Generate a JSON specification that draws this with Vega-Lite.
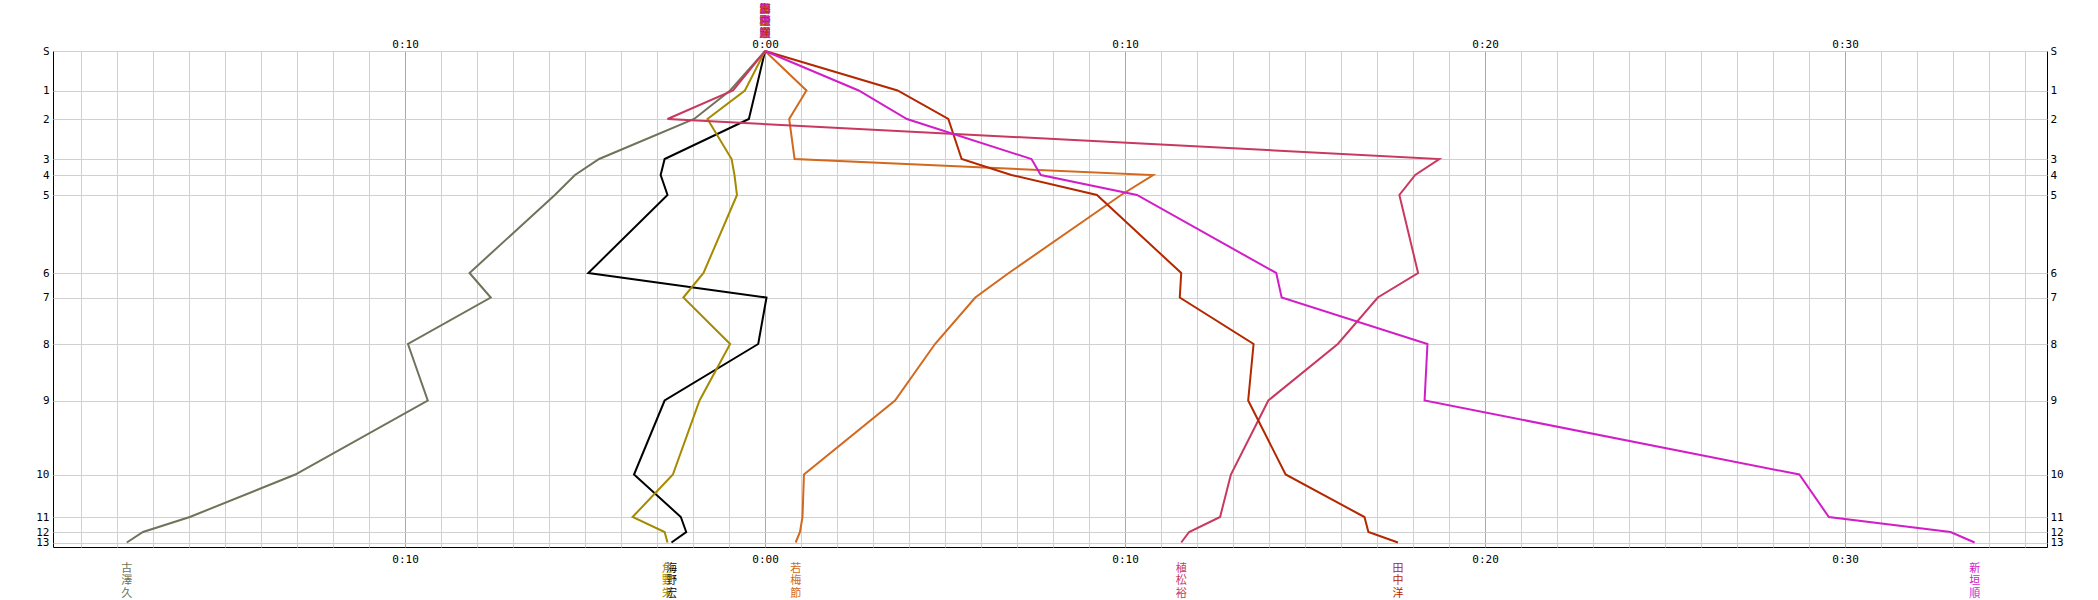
{
  "$schema": "https://vega.github.io/schema/vega-lite/v6.json",
  "width": 1994,
  "height": 496,
  "autosize": "none",
  "padding": {"left": 53, "top": 51, "right": 51, "bottom": 53},
  "background": "white",
  "config": {"view": {"stroke": "black", "strokeWidth": 1}},
  "data": {"values": [
    {"runner":"古澤久","ctrl":"S","d":0,"t":0},
    {"runner":"古澤久","ctrl":"1","d":39.5,"t":-0.97},
    {"runner":"古澤久","ctrl":"2","d":68,"t":-1.97},
    {"runner":"古澤久","ctrl":"3","d":108,"t":-4.61},
    {"runner":"古澤久","ctrl":"4","d":124,"t":-5.28},
    {"runner":"古澤久","ctrl":"5","d":144,"t":-5.84},
    {"runner":"古澤久","ctrl":"6","d":222,"t":-8.21},
    {"runner":"古澤久","ctrl":"7","d":246.5,"t":-7.62},
    {"runner":"古澤久","ctrl":"8","d":293,"t":-9.92},
    {"runner":"古澤久","ctrl":"9","d":349.5,"t":-9.37},
    {"runner":"古澤久","ctrl":"10","d":423.5,"t":-13.05},
    {"runner":"古澤久","ctrl":"11","d":466,"t":-15.98},
    {"runner":"古澤久","ctrl":"12","d":481,"t":-17.28},
    {"runner":"古澤久","ctrl":"13","d":491.5,"t":-17.73},
    {"runner":"海野宏","ctrl":"S","d":0,"t":0},
    {"runner":"海野宏","ctrl":"1","d":39.5,"t":-0.26},
    {"runner":"海野宏","ctrl":"2","d":68,"t":-0.45},
    {"runner":"海野宏","ctrl":"3","d":108,"t":-2.79},
    {"runner":"海野宏","ctrl":"4","d":124,"t":-2.9},
    {"runner":"海野宏","ctrl":"5","d":144,"t":-2.71},
    {"runner":"海野宏","ctrl":"6","d":222,"t":-4.91},
    {"runner":"海野宏","ctrl":"7","d":246.5,"t":0.04},
    {"runner":"海野宏","ctrl":"8","d":293,"t":-0.19},
    {"runner":"海野宏","ctrl":"9","d":349.5,"t":-2.79},
    {"runner":"海野宏","ctrl":"10","d":423.5,"t":-3.64},
    {"runner":"海野宏","ctrl":"11","d":466,"t":-2.34},
    {"runner":"海野宏","ctrl":"12","d":481,"t":-2.19},
    {"runner":"海野宏","ctrl":"13","d":491.5,"t":-2.6},
    {"runner":"角野栄","ctrl":"S","d":0,"t":0},
    {"runner":"角野栄","ctrl":"1","d":39.5,"t":-0.56},
    {"runner":"角野栄","ctrl":"2","d":68,"t":-1.6},
    {"runner":"角野栄","ctrl":"3","d":108,"t":-0.93},
    {"runner":"角野栄","ctrl":"4","d":124,"t":-0.85},
    {"runner":"角野栄","ctrl":"5","d":144,"t":-0.78},
    {"runner":"角野栄","ctrl":"6","d":222,"t":-1.71},
    {"runner":"角野栄","ctrl":"7","d":246.5,"t":-2.27},
    {"runner":"角野栄","ctrl":"8","d":293,"t":-0.97},
    {"runner":"角野栄","ctrl":"9","d":349.5,"t":-1.82},
    {"runner":"角野栄","ctrl":"10","d":423.5,"t":-2.56},
    {"runner":"角野栄","ctrl":"11","d":466,"t":-3.68},
    {"runner":"角野栄","ctrl":"12","d":481,"t":-2.79},
    {"runner":"角野栄","ctrl":"13","d":491.5,"t":-2.71},
    {"runner":"若梅節","ctrl":"S","d":0,"t":0},
    {"runner":"若梅節","ctrl":"1","d":39.5,"t":1.15},
    {"runner":"若梅節","ctrl":"2","d":68,"t":0.67},
    {"runner":"若梅節","ctrl":"3","d":108,"t":0.82},
    {"runner":"若梅節","ctrl":"4","d":124,"t":10.78},
    {"runner":"若梅節","ctrl":"5","d":144,"t":9.89},
    {"runner":"若梅節","ctrl":"6","d":222,"t":6.77},
    {"runner":"若梅節","ctrl":"7","d":246.5,"t":5.84},
    {"runner":"若梅節","ctrl":"8","d":293,"t":4.72},
    {"runner":"若梅節","ctrl":"9","d":349.5,"t":3.61},
    {"runner":"若梅節","ctrl":"10","d":423.5,"t":1.08},
    {"runner":"若梅節","ctrl":"11","d":466,"t":1.04},
    {"runner":"若梅節","ctrl":"12","d":481,"t":0.97},
    {"runner":"若梅節","ctrl":"13","d":491.5,"t":0.85},
    {"runner":"植松裕","ctrl":"S","d":0,"t":0},
    {"runner":"植松裕","ctrl":"1","d":39.5,"t":-0.89},
    {"runner":"植松裕","ctrl":"2","d":68,"t":-2.71},
    {"runner":"植松裕","ctrl":"3","d":108,"t":18.73},
    {"runner":"植松裕","ctrl":"4","d":124,"t":18.06},
    {"runner":"植松裕","ctrl":"5","d":144,"t":17.62},
    {"runner":"植松裕","ctrl":"6","d":222,"t":18.14},
    {"runner":"植松裕","ctrl":"7","d":246.5,"t":17.02},
    {"runner":"植松裕","ctrl":"8","d":293,"t":15.91},
    {"runner":"植松裕","ctrl":"9","d":349.5,"t":13.98},
    {"runner":"植松裕","ctrl":"10","d":423.5,"t":12.94},
    {"runner":"植松裕","ctrl":"11","d":466,"t":12.64},
    {"runner":"植松裕","ctrl":"12","d":481,"t":11.78},
    {"runner":"植松裕","ctrl":"13","d":491.5,"t":11.56},
    {"runner":"田中洋","ctrl":"S","d":0,"t":0},
    {"runner":"田中洋","ctrl":"1","d":39.5,"t":3.68},
    {"runner":"田中洋","ctrl":"2","d":68,"t":5.09},
    {"runner":"田中洋","ctrl":"3","d":108,"t":5.46},
    {"runner":"田中洋","ctrl":"4","d":124,"t":6.84},
    {"runner":"田中洋","ctrl":"5","d":144,"t":9.22},
    {"runner":"田中洋","ctrl":"6","d":222,"t":11.56},
    {"runner":"田中洋","ctrl":"7","d":246.5,"t":11.52},
    {"runner":"田中洋","ctrl":"8","d":293,"t":13.57},
    {"runner":"田中洋","ctrl":"9","d":349.5,"t":13.42},
    {"runner":"田中洋","ctrl":"10","d":423.5,"t":14.46},
    {"runner":"田中洋","ctrl":"11","d":466,"t":16.65},
    {"runner":"田中洋","ctrl":"12","d":481,"t":16.76},
    {"runner":"田中洋","ctrl":"13","d":491.5,"t":17.58},
    {"runner":"新垣順","ctrl":"S","d":0,"t":0},
    {"runner":"新垣順","ctrl":"1","d":39.5,"t":2.6},
    {"runner":"新垣順","ctrl":"2","d":68,"t":3.94},
    {"runner":"新垣順","ctrl":"3","d":108,"t":7.4},
    {"runner":"新垣順","ctrl":"4","d":124,"t":7.66},
    {"runner":"新垣順","ctrl":"5","d":144,"t":10.33},
    {"runner":"新垣順","ctrl":"6","d":222,"t":14.2},
    {"runner":"新垣順","ctrl":"7","d":246.5,"t":14.35},
    {"runner":"新垣順","ctrl":"8","d":293,"t":18.4},
    {"runner":"新垣順","ctrl":"9","d":349.5,"t":18.32},
    {"runner":"新垣順","ctrl":"10","d":423.5,"t":28.73},
    {"runner":"新垣順","ctrl":"11","d":466,"t":29.55},
    {"runner":"新垣順","ctrl":"12","d":481,"t":32.93},
    {"runner":"新垣順","ctrl":"13","d":491.5,"t":33.6}
  ]},
  "transform": [
    {"calculate": "join(split(datum.runner, ''), '\\n')", "as": "vlabel"}
  ],
  "encoding": {
    "x": {"field": "t", "type": "quantitative", "scale": {"domain": [-19.78, 35.61], "nice": false, "zero": false}},
    "y": {"field": "d", "type": "quantitative", "scale": {"domain": [0, 496], "nice": false, "zero": false, "reverse": true}},
    "color": {"field": "runner", "type": "nominal", "legend": null,
      "scale": {"domain": ["古澤久","海野宏","角野栄","若梅節","植松裕","田中洋","新垣順"],
                "range": ["#6f735a","#000000","#a58a00","#d2691e","#c8385f","#b42800","#d21ec8"]}}
  },
  "layer": [
    {
      "mark": {"type": "line", "strokeWidth": 2},
      "encoding": {
        "order": {"field": "d", "type": "quantitative"},
        "x": {"field": "t", "type": "quantitative", "scale": {"domain": [-19.78, 35.61], "nice": false, "zero": false},
          "axis": {"orient": "bottom", "title": null,
            "values": [-19,-18,-17,-16,-15,-14,-13,-12,-11,-10,-9,-8,-7,-6,-5,-4,-3,-2,-1,0,1,2,3,4,5,6,7,8,9,10,11,12,13,14,15,16,17,18,19,20,21,22,23,24,25,26,27,28,29,30,31,32,33,34,35],
            "labelExpr": "datum.value % 10 == 0 ? '0:' + (abs(datum.value) < 10 ? '0' : '') + abs(datum.value) : ''",
            "grid": true,
            "gridColor": {"condition": {"test": "datum.value % 10 == 0", "value": "#a9a9a9"}, "value": "#d0d0d0"},
            "gridWidth": 1,
            "ticks": false, "domain": false, "labelOverlap": false, "labelFlush": false, "labelBound": false,
            "labelFont": "DejaVu Sans Mono", "labelFontSize": 11, "labelColor": "#000000", "labelPadding": 6}},
        "y": {"field": "d", "type": "quantitative", "scale": {"domain": [0, 496], "nice": false, "zero": false, "reverse": true},
          "axis": {"orient": "left", "title": null,
            "values": [0,39.5,68,108,124,144,222,246.5,293,349.5,423.5,466,481,491.5],
            "labelExpr": "['S','1','2','3','4','5','6','7','8','9','10','11','12','13'][indexof([0,39.5,68,108,124,144,222,246.5,293,349.5,423.5,466,481,491.5], datum.value)]",
            "grid": true, "gridColor": "#d0d0d0", "gridWidth": 1,
            "ticks": false, "domain": false, "labelOverlap": false, "labelBound": false, "labelFlush": false,
            "labelFont": "DejaVu Sans Mono", "labelFontSize": 11, "labelColor": "#000000", "labelPadding": 4}}
      }
    },
    {
      "mark": {"type": "point", "opacity": 0, "size": 0},
      "encoding": {
        "x": {"field": "t", "type": "quantitative", "scale": {"domain": [-19.78, 35.61], "nice": false, "zero": false},
          "axis": {"orient": "top", "title": null,
            "values": [-10,0,10,20,30],
            "labelExpr": "'0:' + (abs(datum.value) < 10 ? '0' : '') + abs(datum.value)",
            "grid": false, "ticks": false, "domain": false, "labelOverlap": false, "labelFlush": false, "labelBound": false,
            "labelFont": "DejaVu Sans Mono", "labelFontSize": 11, "labelColor": "#000000", "labelPadding": 2}},
        "y": {"field": "d", "type": "quantitative", "scale": {"domain": [0, 496], "nice": false, "zero": false, "reverse": true},
          "axis": {"orient": "right", "title": null,
            "values": [0,39.5,68,108,124,144,222,246.5,293,349.5,423.5,466,481,491.5],
            "labelExpr": "['S','1','2','3','4','5','6','7','8','9','10','11','12','13'][indexof([0,39.5,68,108,124,144,222,246.5,293,349.5,423.5,466,481,491.5], datum.value)]",
            "grid": false, "ticks": false, "domain": false, "labelOverlap": false, "labelBound": false, "labelFlush": false,
            "labelFont": "DejaVu Sans Mono", "labelFontSize": 11, "labelColor": "#000000", "labelPadding": 3}}
      }
    },
    {
      "transform": [{"filter": "datum.ctrl == '13'"}],
      "mark": {"type": "text", "align": "center", "baseline": "top", "dy": 20, "lineBreak": "\n", "lineHeight": 12.5, "font": "Noto Sans CJK JP", "fontSize": 11},
      "encoding": {
        "x": {"field": "t", "type": "quantitative", "axis": null},
        "y": {"field": "d", "type": "quantitative", "axis": null},
        "text": {"field": "vlabel", "type": "nominal"}
      }
    },
    {
      "transform": [{"filter": "datum.ctrl == 'S'"}],
      "mark": {"type": "text", "align": "center", "baseline": "top", "dy": -47, "lineBreak": "\n", "lineHeight": 12, "font": "Noto Sans CJK JP", "fontSize": 11},
      "encoding": {
        "x": {"field": "t", "type": "quantitative", "axis": null},
        "y": {"field": "d", "type": "quantitative", "axis": null},
        "text": {"field": "vlabel", "type": "nominal"}
      }
    }
  ],
  "resolve": {"axis": {"x": "independent", "y": "independent"}}
}
